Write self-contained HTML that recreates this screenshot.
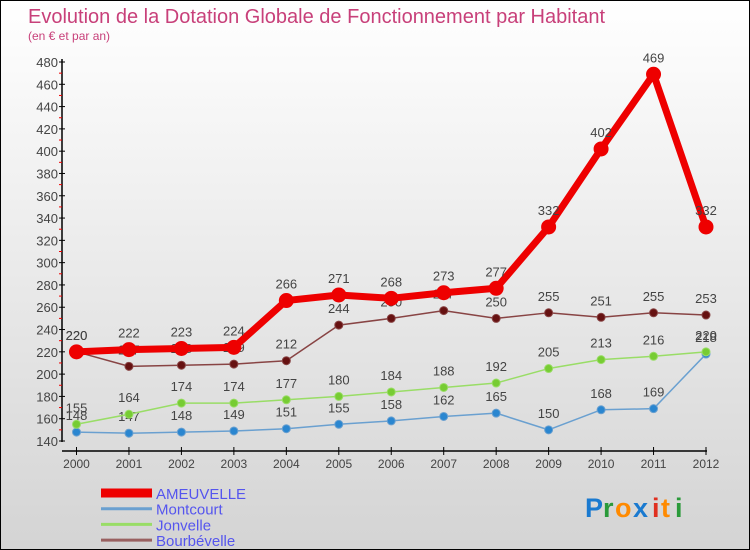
<!DOCTYPE html>
<html><head><meta charset="utf-8"><style>
body{margin:0;}
#c{width:750px;height:550px;position:relative;box-sizing:border-box;border:1px solid #000;background:linear-gradient(#ffffff,#d4d4d4);font-family:"Liberation Sans",sans-serif;overflow:hidden}
svg text{font-family:"Liberation Sans",sans-serif}
</style></head><body>
<div id="c">
<svg id="s" width="750" height="550">
<text x="27" y="22" font-size="20" fill="#c8407a">Evolution de la Dotation Globale de Fonctionnement par Habitant</text>
<text x="27" y="39" font-size="12" fill="#c8407a">(en € et par an)</text>
<g id="g"></g>
<g font-size="27" font-weight="bold" font-family="Liberation Sans">
<text x="584" y="516" fill="#1a7ad0">P</text><text x="602" y="516" fill="#2a9a3a">r</text><text x="614" y="516" fill="#ff8a00">o</text><text x="632" y="516" fill="#1a7ad0">x</text><text x="651" y="516" fill="#e03020">i</text><text x="660" y="516" fill="#ff8a00">t</text><text x="674" y="516" fill="#2a9a3a">i</text>
</g>
</svg>
</div>
<script>
const years=[2000,2001,2002,2003,2004,2005,2006,2007,2008,2009,2010,2011,2012];
const ameuvelle=[220,222,223,224,266,271,268,273,277,332,402,469,332];
const montcourt=[148,147,148,149,151,155,158,162,165,150,168,169,218];
const jonvelle=[155,164,174,174,177,180,184,188,192,205,213,216,220];
const bourbevelle=[220,207,208,209,212,244,250,257,250,255,251,255,253];
const yTicks=[140,160,180,200,220,240,260,280,300,320,340,360,380,400,420,440,460,480];
const NS="http://www.w3.org/2000/svg";
const g=document.getElementById('g');
function X(i){return 75.5+i*(705-75.5)/12;}
function Y(v){return 440-(v-140)*(379/340);}
function mk(t,a,p){const e=document.createElementNS(NS,t);for(const k in a)e.setAttribute(k,a[k]);(p||g).appendChild(e);return e;}
let ya=mk('line',{x1:61,y1:58,x2:61,y2:441,stroke:'#000','stroke-width':1.5});


let xa=mk('line',{x1:61,y1:450,x2:706,y2:450,stroke:'#000','stroke-width':1.5});


yTicks.forEach(v=>{
 mk('line',{x1:58,y1:Y(v),x2:64,y2:Y(v),stroke:'#000'});
 if(v<480) mk('line',{x1:58,y1:Y(v+10),x2:61,y2:Y(v+10),stroke:'#e00'});
 const t=mk('text',{x:57,y:Y(v)+5,'text-anchor':'end','font-size':13,fill:'#444'});
 t.textContent=v;
 
 
});
years.forEach((y,i)=>{
 mk('line',{x1:X(i),y1:446,x2:X(i),y2:454,stroke:'#000'});
 const t=mk('text',{x:X(i),y:467,'text-anchor':'middle','font-size':12,fill:'#444'});
 t.textContent=y;
 
 
});
function series(data,color,w,r,dot,name){
 const gr=mk('g',{});
 
 
 const pts=data.map((v,i)=>X(i)+','+Y(v)).join(' ');
 mk('polyline',{points:pts,fill:'none',stroke:color,'stroke-width':w,'stroke-linejoin':'round'},gr);
 data.forEach((v,i)=>{
  const c=mk('circle',{cx:X(i),cy:Y(v),r:r,fill:dot,stroke:color,'stroke-width':1},gr);
  
  
  const t=mk('text',{x:X(i),y:Y(v)-12,'text-anchor':'middle','font-size':13,fill:'#444'},gr);
  t.textContent=v;
  
  
 });
}
series(montcourt,'#6aa0d0',1.5,4,'#2a86d0','montcourt');
series(jonvelle,'#99dd66',1.5,4,'#77cc33','jonvelle');
series(bourbevelle,'#884444',1.5,4,'#661111','bourbevelle');
series(ameuvelle,'#ee0000',7,7,'#ee0000','ameuvelle');
const leg=[['AMEUVELLE','#ee0000',9],['Montcourt','#6aa0d0',3],['Jonvelle','#99dd66',3],['Bourbévelle','#996060',3]];
leg.forEach((l,i)=>{
 const y=492+i*15.7;
 const gr=mk('g',{});
 
 
 mk('line',{x1:100,y1:y,x2:151,y2:y,stroke:l[1],'stroke-width':l[2]},gr);
 const t=mk('text',{x:155,y:y+6,'font-size':15,fill:'#5555ee'},gr);
 t.textContent=l[0];
});
</script>
</body></html>
